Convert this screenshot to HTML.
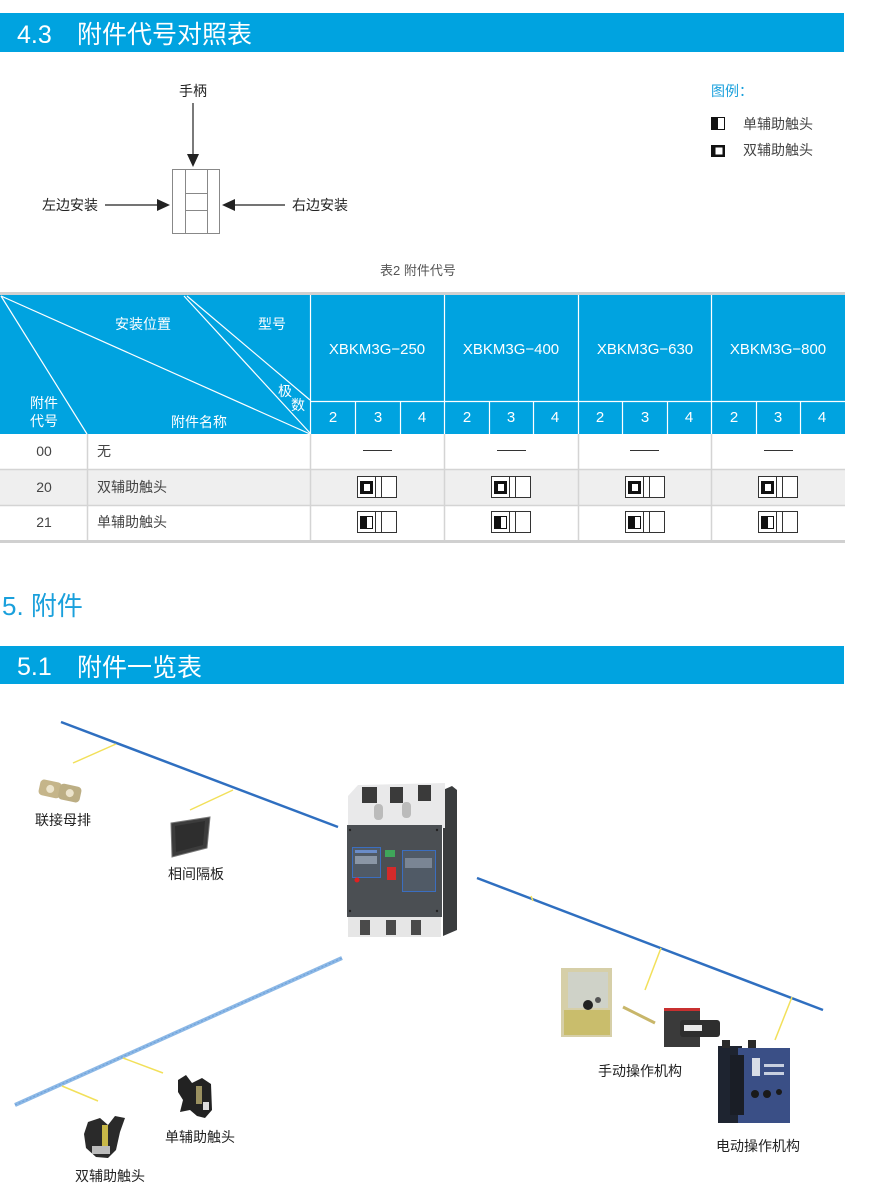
<!DOCTYPE html>
<html>
<head>
<meta charset="utf-8">
<style>
html,body{margin:0;padding:0;background:#fff;}
svg{display:block;}
text{font-family:"Liberation Sans","Noto Sans CJK SC",sans-serif;}
</style>
</head>
<body>
<svg width="882" height="1190" viewBox="0 0 882 1190" xmlns="http://www.w3.org/2000/svg">
<!-- Header bar 4.3 -->
<rect x="0" y="13" width="844" height="39" fill="#00a3e0"/>
<text x="17" y="43" font-size="25" fill="#fff">4.3</text>
<text x="77" y="43" font-size="25" fill="#fff">附件代号对照表</text>

<!-- Diagram -->
<text x="193" y="96" font-size="14" fill="#222" text-anchor="middle">手柄</text>
<line x1="193" y1="103" x2="193" y2="156" stroke="#222" stroke-width="1.2"/>
<polygon points="187,154 199,154 193,167" fill="#222"/>
<rect x="172.5" y="169.5" width="47" height="64" fill="none" stroke="#888" stroke-width="1"/>
<line x1="185.5" y1="169.5" x2="185.5" y2="233.5" stroke="#888"/>
<line x1="207.5" y1="169.5" x2="207.5" y2="233.5" stroke="#888"/>
<line x1="185.5" y1="193.5" x2="207.5" y2="193.5" stroke="#888"/>
<line x1="185.5" y1="210.5" x2="207.5" y2="210.5" stroke="#888"/>
<text x="42" y="210" font-size="14" fill="#222">左边安装</text>
<line x1="105" y1="205" x2="160" y2="205" stroke="#222" stroke-width="1.2"/>
<polygon points="157,199 157,211 170,205" fill="#222"/>
<polygon points="222,205 235,199 235,211" fill="#222"/>
<line x1="233" y1="205" x2="285" y2="205" stroke="#222" stroke-width="1.2"/>
<text x="292" y="210" font-size="14" fill="#222">右边安装</text>

<!-- Legend -->
<text x="711" y="96" font-size="14" fill="#1aa0dc">图例：</text>
<rect x="711.5" y="117.5" width="13" height="12" fill="#fff" stroke="#111" stroke-width="1"/>
<rect x="711" y="117" width="7" height="13" fill="#111"/>
<text x="743" y="129" font-size="14" fill="#444">单辅助触头</text>
<rect x="711" y="145" width="14" height="12" fill="#111"/>
<rect x="715.5" y="147.5" width="7" height="7" fill="#fff"/>
<text x="743" y="155" font-size="14" fill="#444">双辅助触头</text>

<!-- Caption -->
<text x="380" y="275" font-size="13" fill="#555">表2  附件代号</text>

<!-- Table -->
<rect x="0" y="292" width="845" height="3" fill="#d0d0d0"/>
<rect x="0" y="295" width="845" height="139" fill="#00a3e0"/>
<rect x="0" y="434" width="845" height="35" fill="#fff"/>
<rect x="0" y="469" width="845" height="36" fill="#efefef"/>
<rect x="0" y="505" width="845" height="35" fill="#fff"/>
<rect x="0" y="540" width="845" height="3" fill="#d0d0d0"/>
<line x1="0" y1="469.5" x2="845" y2="469.5" stroke="#d4d4d4" stroke-width="1.5"/>
<line x1="0" y1="505.5" x2="845" y2="505.5" stroke="#d4d4d4" stroke-width="1.5"/>
<g stroke="#d4d4d4" stroke-width="1.5">
<line x1="87.5" y1="434" x2="87.5" y2="540"/>
<line x1="310.5" y1="434" x2="310.5" y2="540"/>
<line x1="444.5" y1="434" x2="444.5" y2="540"/>
<line x1="578.5" y1="434" x2="578.5" y2="540"/>
<line x1="711.5" y1="434" x2="711.5" y2="540"/>
</g>
<g stroke="#fff" stroke-width="1.2" fill="none">
<line x1="1" y1="296" x2="87" y2="434"/>
<line x1="1" y1="296" x2="310" y2="434"/>
<line x1="184" y1="296" x2="310" y2="433"/>
<line x1="187" y1="296" x2="310" y2="400"/>
<line x1="310.5" y1="295" x2="310.5" y2="434"/>
<line x1="444.5" y1="295" x2="444.5" y2="434"/>
<line x1="578.5" y1="295" x2="578.5" y2="434"/>
<line x1="711.5" y1="295" x2="711.5" y2="434"/>
<line x1="310" y1="401.5" x2="845" y2="401.5"/>
<line x1="355.5" y1="401" x2="355.5" y2="434"/>
<line x1="400.5" y1="401" x2="400.5" y2="434"/>
<line x1="489.5" y1="401" x2="489.5" y2="434"/>
<line x1="533.5" y1="401" x2="533.5" y2="434"/>
<line x1="622.5" y1="401" x2="622.5" y2="434"/>
<line x1="667.5" y1="401" x2="667.5" y2="434"/>
<line x1="756.5" y1="401" x2="756.5" y2="434"/>
<line x1="800.5" y1="401" x2="800.5" y2="434"/>
</g>
<g fill="#fff" font-size="14" text-anchor="middle">
<text x="143" y="329">安装位置</text>
<text x="272" y="329">型号</text>
<text x="285" y="396">极</text>
<text x="298" y="410">数</text>
<text x="44" y="408">附件</text>
<text x="44" y="426">代号</text>
<text x="199" y="427">附件名称</text>
</g>
<g fill="#fff" font-size="15" text-anchor="middle">
<text x="377" y="354">XBKM3G−250</text>
<text x="511" y="354">XBKM3G−400</text>
<text x="645" y="354">XBKM3G−630</text>
<text x="778" y="354">XBKM3G−800</text>
<text x="333" y="422">2</text><text x="378" y="422">3</text><text x="422" y="422">4</text>
<text x="467" y="422">2</text><text x="511" y="422">3</text><text x="555" y="422">4</text>
<text x="600" y="422">2</text><text x="645" y="422">3</text><text x="689" y="422">4</text>
<text x="734" y="422">2</text><text x="778" y="422">3</text><text x="822" y="422">4</text>
</g>
<g fill="#444" font-size="14">
<text x="44" y="456" text-anchor="middle">00</text>
<text x="44" y="492" text-anchor="middle">20</text>
<text x="44" y="527" text-anchor="middle">21</text>
<text x="97" y="456">无</text>
<text x="97" y="492">双辅助触头</text>
<text x="97" y="527">单辅助触头</text>
</g>
<g stroke="#333" stroke-width="1">
<line x1="363" y1="450.5" x2="392" y2="450.5"/>
<line x1="497" y1="450.5" x2="526" y2="450.5"/>
<line x1="630" y1="450.5" x2="659" y2="450.5"/>
<line x1="764" y1="450.5" x2="793" y2="450.5"/>
</g>
<g id="d1">
<rect x="357.5" y="476.5" width="39" height="21" fill="#fff" stroke="#333" stroke-width="1"/>
<line x1="375.5" y1="476.5" x2="375.5" y2="497.5" stroke="#333"/>
<line x1="381.5" y1="476.5" x2="381.5" y2="497.5" stroke="#333"/>
<rect x="360" y="481" width="13" height="13" fill="#111"/>
<rect x="364" y="484" width="6" height="7" fill="#fff"/>
</g>
<use href="#d1" x="134"/>
<use href="#d1" x="268"/>
<use href="#d1" x="401"/>
<g id="s1">
<rect x="357.5" y="511.5" width="39" height="21" fill="#fff" stroke="#333" stroke-width="1"/>
<line x1="375.5" y1="511.5" x2="375.5" y2="532.5" stroke="#333"/>
<line x1="381.5" y1="511.5" x2="381.5" y2="532.5" stroke="#333"/>
<rect x="360.5" y="516.5" width="12" height="12" fill="#fff" stroke="#111" stroke-width="1"/>
<rect x="360" y="516" width="7" height="13" fill="#111"/>
</g>
<use href="#s1" x="134"/>
<use href="#s1" x="268"/>
<use href="#s1" x="401"/>

<!-- Section 5 -->
<text x="2" y="615" font-size="26" fill="#1aa0dc">5. 附件</text>
<rect x="0" y="646" width="844" height="38" fill="#00a3e0"/>
<text x="17" y="675" font-size="25" fill="#fff">5.1</text>
<text x="77" y="676" font-size="25" fill="#fff">附件一览表</text>

<!-- Lines -->
<line x1="61" y1="722" x2="338" y2="827" stroke="#2f6fc0" stroke-width="2.5"/>
<line x1="73" y1="763" x2="116" y2="744" stroke="#f2e05a" stroke-width="1.5"/>
<line x1="190" y1="810" x2="233" y2="790" stroke="#f2e05a" stroke-width="1.5"/>
<line x1="477" y1="878" x2="823" y2="1010" stroke="#2f6fc0" stroke-width="2.5"/>
<line x1="531" y1="896" x2="533" y2="901" stroke="#f2e05a" stroke-width="1.5"/>
<line x1="645" y1="990" x2="661" y2="948" stroke="#f2e05a" stroke-width="1.5"/>
<line x1="775" y1="1040" x2="792" y2="997" stroke="#f2e05a" stroke-width="1.5"/>
<line x1="15" y1="1105" x2="342" y2="958" stroke="#8cb8e6" stroke-width="4"/>
<line x1="15" y1="1105" x2="342" y2="958" stroke="#6a9ed8" stroke-width="1" stroke-dasharray="2 2"/>
<line x1="62" y1="1086" x2="98" y2="1101" stroke="#f2e05a" stroke-width="1.5"/>
<line x1="123" y1="1058" x2="163" y2="1073" stroke="#f2e05a" stroke-width="1.5"/>

<!-- busbar -->
<g transform="translate(60,791) rotate(12)">
<rect x="-21" y="-8" width="22" height="16" rx="4" fill="#c5b58a"/>
<rect x="-1" y="-8" width="22" height="16" rx="4" fill="#bcae84"/>
<circle cx="-10" cy="0" r="4" fill="#ece4cc"/>
<circle cx="10" cy="0" r="4" fill="#ece4cc"/>
</g>
<text x="35" y="825" font-size="14" fill="#222">联接母排</text>

<!-- phase plate -->
<polygon points="171,823 210,817 207,848 172,857" fill="#3c3c3c" stroke="#777" stroke-width="1"/>
<polygon points="175,826 205,821 203,845 176,852" fill="#2e2e2e"/>
<text x="168" y="879" font-size="14" fill="#222">相间隔板</text>

<!-- breaker -->
<g>
<polygon points="443,790 452,786 457,790 457,930 443,936" fill="#3a3c3e"/>
<polygon points="348,796 358,785 445,783 445,828 348,828" fill="#e9e9ea"/>
<rect x="362" y="787" width="15" height="16" fill="#3a3a3a"/>
<rect x="390" y="787" width="13" height="16" fill="#3a3a3a"/>
<rect x="418" y="785" width="13" height="16" fill="#3a3a3a"/>
<rect x="374" y="804" width="9" height="16" rx="4" fill="#bbb"/>
<rect x="402" y="802" width="9" height="16" rx="4" fill="#bbb"/>
<rect x="347" y="825" width="95" height="92" fill="#4b4f53"/>
<rect x="352.5" y="847.5" width="28" height="30" fill="#505a66" stroke="#3b6ec0" stroke-width="1"/>
<rect x="355" y="850" width="22" height="3" fill="#6a8cc8"/>
<rect x="355" y="856" width="22" height="8" fill="#8a96a6"/>
<rect x="402.5" y="850.5" width="33" height="41" fill="#505a66" stroke="#3b6ec0" stroke-width="1"/>
<rect x="405" y="858" width="27" height="10" fill="#7a8594"/>
<rect x="385" y="850" width="10" height="7" fill="#3fa65a"/>
<rect x="387" y="867" width="9" height="13" fill="#d42a2a"/>
<circle cx="357" cy="880" r="2.5" fill="#e02020"/>
<circle cx="350" cy="830" r="1.2" fill="#222"/>
<circle cx="437" cy="830" r="1.2" fill="#222"/>
<circle cx="350" cy="911" r="1.2" fill="#222"/>
<circle cx="437" cy="911" r="1.2" fill="#222"/>
<rect x="348" y="917" width="93" height="20" fill="#e6e6e6"/>
<rect x="360" y="920" width="10" height="15" fill="#4a4a4a"/>
<rect x="386" y="920" width="10" height="15" fill="#4a4a4a"/>
<rect x="411" y="920" width="10" height="15" fill="#4a4a4a"/>
</g>

<!-- manual operating -->
<rect x="561" y="968" width="51" height="69" fill="#d6cfa8"/>
<rect x="564" y="1010" width="46" height="25" fill="#c9bd6c"/>
<rect x="568" y="972" width="40" height="36" fill="#cfd2c8"/>
<circle cx="588" cy="1005" r="5" fill="#222"/>
<circle cx="598" cy="1000" r="3" fill="#555"/>
<line x1="623" y1="1007" x2="655" y2="1023" stroke="#c8b66a" stroke-width="3"/>
<rect x="664" y="1008" width="36" height="39" fill="#3a3a3a"/>
<rect x="664" y="1008" width="36" height="3" fill="#c83030"/>
<rect x="680" y="1020" width="40" height="17" rx="3" fill="#2e2e2e"/>
<rect x="684" y="1025" width="18" height="6" fill="#e8e8e8"/>
<text x="598" y="1076" font-size="14" fill="#222">手动操作机构</text>

<!-- motor operator -->
<rect x="718" y="1046" width="24" height="77" fill="#1e2430"/>
<rect x="722" y="1040" width="8" height="8" fill="#2a2a2a"/>
<rect x="748" y="1040" width="8" height="8" fill="#2a2a2a"/>
<rect x="738" y="1048" width="52" height="75" fill="#3a4f86"/>
<rect x="730" y="1055" width="14" height="60" fill="#1a1e26"/>
<rect x="752" y="1058" width="8" height="18" fill="#d8dde6"/>
<rect x="764" y="1064" width="20" height="3" fill="#c8d0e0"/>
<rect x="764" y="1072" width="20" height="3" fill="#c8d0e0"/>
<circle cx="755" cy="1094" r="4" fill="#1a1a1a"/>
<circle cx="767" cy="1094" r="4" fill="#1a1a1a"/>
<circle cx="779" cy="1092" r="3" fill="#1a1a1a"/>
<text x="716" y="1151" font-size="14" fill="#222">电动操作机构</text>

<!-- single aux contact -->
<polygon points="178,1080 186,1075 192,1083 202,1078 211,1084 212,1110 205,1118 197,1116 190,1110 180,1112 183,1100 178,1092" fill="#222"/>
<rect x="196" y="1086" width="6" height="18" fill="#9a9060"/>
<rect x="203" y="1102" width="6" height="8" fill="#ddd"/>
<text x="165" y="1142" font-size="14" fill="#222">单辅助触头</text>

<!-- double aux contact -->
<polygon points="88,1122 100,1118 108,1125 115,1116 125,1118 120,1132 116,1150 108,1158 96,1157 86,1148 84,1134" fill="#2a2a2a"/>
<rect x="102" y="1125" width="6" height="28" fill="#c8b848"/>
<rect x="92" y="1146" width="18" height="8" fill="#bbb"/>
<text x="75" y="1181" font-size="14" fill="#222">双辅助触头</text>
</svg>
</body>
</html>
